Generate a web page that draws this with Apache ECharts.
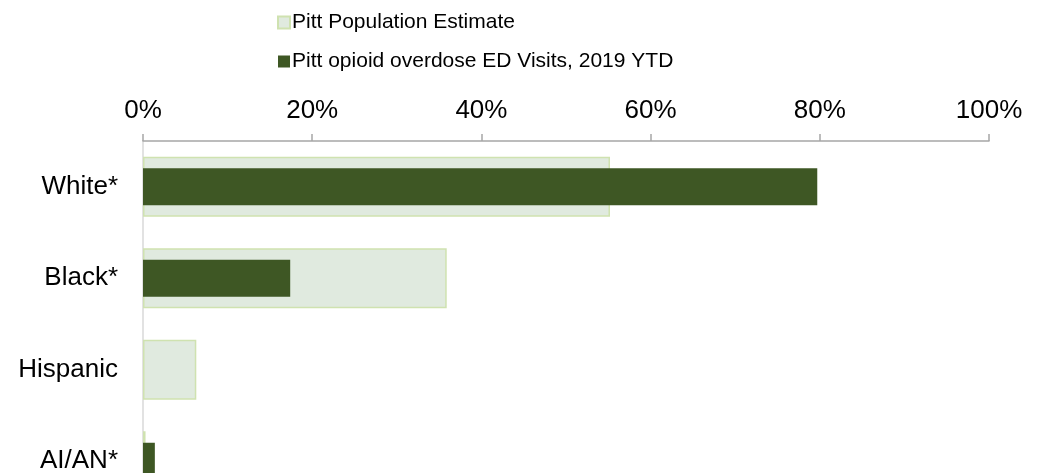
<!DOCTYPE html>
<html><head><meta charset="utf-8">
<script src="https://cdn.jsdelivr.net/npm/echarts@6/dist/echarts.min.js"></script>
<style>html,body{margin:0;padding:0;background:#fff}#c{width:1048px;height:473px}</style>
</head><body><div id="c"></div>
<script>
const categories = ['White*', 'Black*', 'Hispanic', 'AI/AN*'];
const seriesNames = ['Pitt Population Estimate', 'Pitt opioid overdose ED Visits, 2019 YTD'];
const populationEstimate = [55.2, 35.9, 6.3, 0.3];
const edVisits = [79.7, 17.4, 0, 1.4];
const xTicks = [0, 20, 40, 60, 80, 100];

const chart = echarts.init(document.getElementById('c'));
chart.setOption({
  animation: false,
  textStyle: { fontFamily: 'Liberation Sans, Arial, sans-serif' },
  legend: {
    orient: 'vertical', left: 272, top: 7, itemWidth: 12, itemHeight: 12, itemGap: 18,
    icon: 'rect',
    textStyle: { fontSize: 21, color: '#000', padding: [0, 0, 0, -3] },
    data: seriesNames
  },
  grid: { left: 143, top: 141, width: 846, height: 366, containLabel: false, outerBoundsMode: 'none' },
  xAxis: {
    type: 'value', position: 'top', min: xTicks[0], max: xTicks[xTicks.length - 1], interval: 20,
    axisLine: { show: true, lineStyle: { color: '#a6a6a6', width: 1.5 } },
    axisTick: { show: true, length: 7, lineStyle: { color: '#a6a6a6', width: 1.5 } },
    axisLabel: { formatter: '{value}%', fontSize: 26, color: '#000', margin: 17 },
    splitLine: { show: false }
  },
  yAxis: [
    {
      type: 'category', data: categories, inverse: true,
      axisLine: { show: true, lineStyle: { color: '#d9d9d9', width: 1.5 } },
      axisTick: { show: false },
      axisLabel: { fontSize: 26, color: '#000', margin: 25 }
    },
    {
      type: 'category', data: categories, inverse: true, position: 'left',
      axisLine: { show: false }, axisTick: { show: false }, axisLabel: { show: false }
    }
  ],
  series: [
    {
      name: seriesNames[0], type: 'bar', yAxisIndex: 0, data: populationEstimate, barWidth: 60,
      itemStyle: { color: '#e0eadf', borderColor: '#cfe2b0', borderWidth: 1.5 }
    },
    {
      name: seriesNames[1], type: 'bar', yAxisIndex: 1, data: edVisits, barWidth: 37,
      itemStyle: { color: '#3e5724', borderWidth: 0 }
    }
  ]
});
</script></body></html>
